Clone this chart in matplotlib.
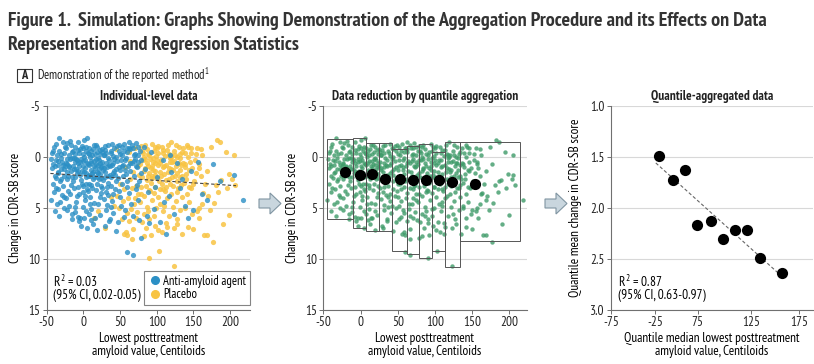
import numpy as np
import matplotlib
matplotlib.use("Agg")
import matplotlib.pyplot as plt
from matplotlib.patches import Rectangle, Polygon
from matplotlib.lines import Line2D

narrow = ['PT Sans Narrow', 'Roboto Condensed', 'Asap Condensed', 'DejaVu Sans']
plt.rcParams['font.family'] = narrow
plt.rcParams['axes.unicode_minus'] = False
plt.rcParams['mathtext.fontset'] = 'custom'
plt.rcParams['mathtext.rm'] = 'PT Sans Narrow'
plt.rcParams['mathtext.it'] = 'PT Sans Narrow:italic'

# individual-level data (x = centiloids, y = change in CDR-SB)
anti_amyloid = [
    (-44, 0.2), (-43, 1.1), (-42, 2.6), (-41, -0.6), (-40, 3.4), (-39, 0.9), (-38, -1.3), (-37, 2.1),
    (-36, 4.6), (-35, 1.6), (-44.5, 4.2), (-39, 5.3), (-38, 3.0),
    (-34, 0.4), (-33, -1.9), (-32, 2.4), (-31, 1.2), (-30, -0.3), (-29, 3.7), (-28, 0.8), (-27, 5.0),
    (-26, 1.9), (-25.5, -1.0), (-34, 3.1), (-32, 4.4), (-28, 2.8), (-33, 5.8), (-27, 3.9),
    (-24, 0.6), (-23, 2.2), (-22, -1.4), (-21, 3.3), (-20, 1.0), (-19, 4.8), (-18, 0.2), (-17, 2.7),
    (-16, 5.6), (-15.5, -0.5), (-24, 4.0), (-22, 1.5), (-18, 3.6), (-15, 6.1), (-23, 5.2), (-17, -1.2),
    (-14, 0.9), (-13, 3.0), (-12, -1.0), (-11, 2.0), (-10, 4.4), (-9, 0.3), (-8, 5.9), (-7, 1.4),
    (-6, 3.6), (-5.5, -0.4), (-14, 2.4), (-12, 4.9), (-10, 1.2), (-8, -1.5), (-7, 2.9), (-6, 6.3),
    (-13, 0.1), (-11, 5.4), (-9, 3.8), (-4, 6.0),
    (-4, 0.5), (-3, 2.3), (-2, -1.1), (-1, 3.4), (0, 0.9), (1, -1.7), (2, 4.2), (3, 1.6), (4, 5.3),
    (-3, 6.8), (0, 2.8), (1, 0.0), (2, 3.8), (3, -0.6), (4, 2.0), (-1, 4.9), (5, 7.0), (0.5, 6.0),
    (5.5, -1.9), (-2, 1.4), (-0.5, -0.3), (2.5, 1.1), (4.5, 3.1),
    (6, 0.7), (7, 2.6), (8, -0.9), (9, 3.9), (10, 1.3), (11, 5.1), (12, -0.2), (13, 2.2), (14, 4.5),
    (15, 0.4), (6, 3.3), (8, 1.8), (10, 6.2), (12, 3.0), (14, -1.2), (7, 5.6), (9, 0.0), (11, 2.7),
    (13, 6.6), (17, -1.2), (6.5, -0.4), (10.5, 0.6), (13.5, 1.5), (8.5, 4.6),
    (16, 1.1), (17, 3.2), (18, -0.5), (19, 2.0), (20, 4.6), (21, 0.3), (22, 5.7), (23, 1.7), (24, 3.5),
    (25, -0.8), (16, 6.0), (18, 2.6), (20, 0.8), (22, 3.9), (24, 1.0), (19, 7.2), (21, 2.2), (23, -0.3),
    (17.5, 0.2), (20.5, 1.6), (23.5, 2.8),
    (26, 0.5), (27, 2.3), (28, 4.1), (29, -0.7), (30, 1.5), (31, 5.2), (32, 2.9), (33, 0.1), (34, 3.7),
    (35, 6.3), (26, 3.0), (28, 1.1), (30, -1.1), (32, 4.7), (34, 1.9), (29, 6.8), (31, 0.6), (33, 2.5),
    (27.5, -0.2), (30.5, 3.4), (34.5, 0.8),
    (36, 0.9), (37, 2.8), (38, -0.4), (39, 4.3), (40, 1.6), (41, 5.5), (42, 0.2), (43, 3.1), (44, 7.3),
    (45, 1.2), (36, 6.1), (38, 2.0), (40, 3.6), (42, -0.9), (44, 2.4), (37, 4.9), (41, 0.6),
    (39.5, -1.3), (43.5, 1.8),
    (46, 0.4), (47, 2.1), (48, -0.6), (49, 3.3), (50, 1.3), (51, 4.8), (52, -1.0), (53, 2.6), (54, 0.8),
    (55, 5.9), (47, 6.4), (50, 3.9), (53, -0.2), (54, 1.9), (49, -1.2), (51.5, 0.3),
    (56, -1.3), (57, 0.3), (58, 1.7), (59, -0.5), (60, 2.4), (61, 0.9), (62, 3.5), (63, -0.8), (64, 1.4),
    (65, 4.6), (60, 9.3), (57, 5.2), (62, -1.5), (59, 2.9), (58.5, 0.1), (61.5, -0.9),
    (66, 0.6), (67, 9.6), (68, -0.9), (69, 1.9), (70, 0.2), (71, 3.1), (72, -1.4), (73, 1.0), (74, 4.2),
    (75, 0.5), (76, 2.4), (77, -0.6), (78, 7.9), (79, 1.6), (67, 5.8), (70, -0.3), (73, 2.7), (76, 6.2),
    (68.5, -0.2), (74.5, -1.0),
    (84, 1.2), (88, 3.4), (92, -0.5), (96, 5.1), (100, 2.0), (104, 6.4), (108, 0.3), (112, 7.5),
    (116, 3.8), (120, 1.5), (124, 5.6), (128, 0.6), (132, 3.0), (138, 4.8), (146, 1.4), (150, 5.2),
    (156, 0.5), (162, 3.6), (169, 4.2), (176, 0.7), (186, 2.4), (205, 1.8), (218, 4.2), (86, 5.8),
    (98, 2.9), (110, 4.4), (118, -0.2), (135, 2.2), (142, 6.0), (82, -1.0), (90, 6.5),
    # dense core near the top of the cloud
    (-43, -0.4), (-41, 0.7), (-40, -1.0), (-39, 1.9), (-37, 0.3), (-36, -0.2), (-35, 0.8), (-34, 1.5),
    (-33, -0.6), (-31, 0.1), (-30, 2.2), (-29, 0.5), (-28, -1.5), (-27, 1.2), (-26, -0.4), (-25, 0.9),
    (-24, -0.9), (-23, 0.7), (-22, 0.2), (-21, 1.9), (-20, -0.2), (-19, 0.9), (-18, -1.6), (-17, 1.4),
    (-16, 0.1), (-15, 2.0), (-14, -0.6), (-13, 1.2), (-12, 0.5), (-11, -0.3), (-10, 0.2), (-9, 1.6),
    (-8, 0.6), (-7, -0.7), (-6, 0.9), (-5, 1.8), (-4, -0.8), (-3, 0.2), (-2, 2.6), (-1, 0.4), (0, -0.9),
    (1, 1.5), (2, 0.3), (3, 2.6), (4, -1.0), (5, 0.6), (6, 1.9), (7, -0.3), (8, 0.8), (9, 1.9),
    (10, -0.6), (11, 0.4), (12, 1.6), (13, -0.8), (14, 0.9), (15, 2.0), (16, -0.3), (17, 0.7),
    (18, 1.5), (19, -1.0), (20, 0.1), (21, 1.2), (22, -0.7), (23, 0.6), (24, 2.1), (25, 0.9),
    (26, -0.5), (27, 1.3), (28, -0.2), (29, 2.0), (31, -0.4), (32, 1.0), (33, -1.2), (35, 0.3),
    (36, 1.8), (37, -0.6), (39, 0.8), (40, -0.1), (42, 1.4), (44, 0.0), (46, -1.1), (48, 1.0),
    (50, -0.3), (52, 0.9), (55, -0.6), (57, 1.3), (60, -0.9), (63, 0.6), (66, -1.2), (69, 0.4),
    (72, 0.9), (75, -0.2), (78, 0.3),
]

placebo = [
    (46, 3.8), (48, 5.0), (50, 2.6), (52, 6.1), (54, 4.3), (56, 7.5), (58, 7.4), (60, 7.6), (55, 3.1),
    (57, 1.0), (59, 5.5), (14, 6.0), (20, 5.3), (37, 3.9), (42, 4.8), (30, 7.0), (44, -0.8),
    (61, 4.0), (62, 6.3), (63, 2.2), (64, 0.4), (65, 5.1), (66, 3.0), (67, 7.1), (68, 1.5), (69, 4.6),
    (70, -0.9), (71, 6.0), (72, 2.8), (73, 5.4), (74, 0.9), (75, 3.6), (62, -0.5), (66, 8.0), (70, 4.0),
    (76, 1.8), (77, 4.4), (78, -1.1), (79, 2.9), (80, 6.4), (81, 0.3), (82, 3.8), (83, 5.6), (84, 1.1),
    (85, 7.0), (86, 2.3), (87, 4.9), (88, -0.3), (89, 3.2), (90, 6.1), (77, 0.7), (80, 2.0), (83, 7.7),
    (86, -0.8), (88, 5.3), (90, 9.9), (89, 1.6), (81.5, -0.4), (84.5, 0.2), (87.5, 0.9),
    (91, 0.2), (92, 2.5), (93, 4.2), (94, -1.3), (95, 1.3), (96, 3.5), (97, 6.8), (98, 0.6), (99, 5.0),
    (100, 2.1), (101, -0.4), (102, 3.9), (103, 9.2), (104, 1.5), (105, 4.6), (92, 7.6), (94, 0.9),
    (96, 5.8), (98, 2.9), (100, -0.9), (102, 7.2), (104, 3.1), (93, 1.9), (99, -0.1), (95.5, 0.1),
    (101.5, 0.8), (97.5, 1.8),
    (106, 0.3), (107, 2.6), (108, 5.3), (109, -0.7), (110, 1.7), (111, 3.3), (112, 6.5), (113, 0.8),
    (114, 4.0), (115, -1.2), (116, 2.2), (117, 5.8), (118, 0.1), (119, -1.5), (120, 3.6), (107, 7.4),
    (110, 4.8), (113, 2.9), (116, -0.3), (119, 1.2), (108, 1.0), (114, 6.9), (111.5, -0.1), (117.5, 0.5),
    (121, 0.5), (122, 2.8), (123, 10.7), (124, -0.6), (125, 1.9), (126, 4.3), (127, 6.1), (128, 0.0),
    (129, 3.0), (130, -1.0), (131, 2.0), (132, 5.2), (133, 0.8), (134, 3.9), (135, 7.5), (122, 4.9),
    (125, -0.2), (128, 6.6), (131, 1.3), (134, -0.5), (127, 2.4), (123, 7.0), (126.5, 0.9),
    (136, 0.6), (137, 2.5), (138, 5.0), (139, -0.4), (140, 1.7), (141, 3.6), (142, 6.9), (144, 4.4),
    (146, -0.9), (147, 3.0), (148, 5.6), (150, 7.1), (141, -1.2), (144, 2.9),
    (151, 2.4), (153, -0.3), (154, 1.6), (155, 5.3), (157, 0.7), (158, 6.0), (160, -0.8), (161, 4.6),
    (163, 3.5), (164, 7.6), (157, 5.0), (160, 1.9),
    (166, 2.6), (168, 1.4), (169, 7.6), (170, 3.8), (172, 5.2), (174, -1.0), (176, 8.3), (178, 4.5),
    (180, 2.7),
    (182, -1.7), (184, 3.4), (186, -1.5), (188, 2.3), (190, 6.6), (194, -0.5), (196, 3.0), (198, 1.7),
    (199, 5.7), (203, 2.2), (205, -0.2), (207, 2.7),
    # dense core near the top of the cloud
    (80, -0.6), (82, 1.4), (84, -1.2), (86, 0.6), (88, 1.9), (90, -0.2), (92, 1.1), (94, 2.1),
    (96, -0.6), (98, 1.4), (100, 0.3), (102, -1.1), (104, 0.6), (106, 1.9), (108, -0.4), (110, 0.9),
    (112, 2.3), (114, -0.7), (116, 1.1), (118, 2.6), (120, -0.2), (122, 1.3), (124, 0.4), (126, -1.2),
    (128, 1.6), (130, 0.6), (132, -0.3), (134, 1.9), (136, -0.9), (138, 0.7), (140, 2.2), (142, 0.0),
    (144, 1.3), (146, -0.4), (148, 1.1), (150, 2.6), (152, 0.3), (155, -0.9), (158, 1.1), (162, -0.2),
    (79, 3.6), (85, 2.8), (91, 3.3), (97, -1.0), (103, 2.4), (109, 3.1), (115, 1.5), (121, 2.0),
    (127, 3.4), (133, 2.7), (139, 1.0), (145, 0.5), (83, 0.0), (95, 0.5), (107, -1.0), (119, 0.0),
    (131, 0.1), (143, -1.0),
]

# quantile bins (x range, y range) and their summaries
bin_x_lo = [-44.6, -10.1, 7.8, 24.4, 42.7, 62.0, 78.1, 95.6, 113.0, 134.1]
bin_x_hi = [-10.1, 7.8, 24.4, 42.7, 62.0, 78.1, 95.6, 113.0, 134.1, 214.3]
bin_y_lo = [-1.76, -1.83, -1.34, -1.40, -0.75, -1.08, -1.24, -0.52, -1.50, -1.47]
bin_y_hi = [6.08, 6.95, 7.22, 7.22, 9.20, 9.54, 9.93, 9.18, 10.80, 8.24]
q_median = [-20.9, -0.7, 15.9, 32.4, 53.0, 70.5, 87.5, 105.0, 122.9, 154.3]
q_mean = [1.49, 1.725, 1.627, 2.17, 2.127, 2.30, 2.216, 2.216, 2.49, 2.64]

# right panel tick labels as printed in the figure
right_tick_pos = [-90, -27, 34, 111, 179]
right_tick_lab = ['-75', '-25', '75', '125', '175']

blue = '#2b8fc5'
yellow = '#f8c443'
green = '#3d9a68'
grid_c = '#d8d8d8'
spine_c = '#707070'
fs = 9.5

fig = plt.figure(figsize=(8.14, 3.64), dpi=100)

fig.text(8 / 814, 1 - 21 / 364, 'Figure 1.  Simulation: Graphs Showing Demonstration of the Aggregation Procedure and its Effects on Data',
         fontsize=14.5, fontweight='bold', color='#333333', va='center', ha='left')
fig.text(8 / 814, 1 - 45 / 364, 'Representation and Regression Statistics',
         fontsize=14.5, fontweight='bold', color='#333333', va='center', ha='left')
fig.patches.append(Rectangle((16.5 / 814, 1 - 82 / 364), 15.5 / 814, 13 / 364, transform=fig.transFigure,
                             fill=False, edgecolor='#333333', lw=0.8))
fig.text(24.3 / 814, 1 - 75.5 / 364, 'A', fontsize=9, fontweight='bold', ha='center', va='center', color='#222222')
fig.text(37 / 814, 1 - 75.5 / 364, r'Demonstration of the reported method$^{1}$', fontsize=9,
         ha='left', va='center', color='#222222')

def style_axes(ax, ylab_x):
    for s in ['top', 'right']:
        ax.spines[s].set_visible(False)
    for s in ['left', 'bottom']:
        ax.spines[s].set_color(spine_c)
        ax.spines[s].set_linewidth(0.8)
    ax.tick_params(labelsize=fs, length=3, width=0.7, color=spine_c, pad=1.5, labelcolor='#222222')
    ax.yaxis.grid(True, color=grid_c, lw=0.8)
    ax.set_axisbelow(True)
    ax.yaxis.set_label_coords(ylab_x, 0.5)
    ax.xaxis.set_label_coords(0.5, -0.11)

ax_h = 204 / 364
ax_b = 1 - 310 / 364
ax1 = fig.add_axes([46.7 / 814, ax_b, 203.3 / 814, ax_h])
ax2 = fig.add_axes([323.3 / 814, ax_b, 203.3 / 814, ax_h])
ax3 = fig.add_axes([611 / 814, ax_b, 202 / 814, ax_h])

xa, ya = np.array(anti_amyloid).T
xp, yp = np.array(placebo).T
all_x = np.concatenate([xa, xp])
all_y = np.concatenate([ya, yp])

xlab = 'Lowest posttreatment\namyloid value, Centiloids'

# panel 1
style_axes(ax1, -0.12)
ax1.scatter(xp, yp, s=14, color=yellow, alpha=0.85, lw=0, zorder=2)
ax1.scatter(xa, ya, s=14, color=blue, alpha=0.8, lw=0, zorder=2)
k, b = np.polyfit(all_x, all_y, 1)
fx = np.array([-45, 208])
ax1.plot(fx, k * fx + b, ls='--', color='#444444', lw=0.8, dashes=(3, 2), zorder=3)
ax1.set_xlim(-50, 227)
ax1.set_ylim(15, -5)
ax1.set_xticks([-50, 0, 50, 100, 150, 200])
ax1.set_yticks([-5, 0, 5, 10, 15])
ax1.set_title('Individual-level data', fontsize=fs, fontweight='bold', pad=4, color='#222222')
ax1.set_ylabel('Change in CDR-SB score', fontsize=fs)
ax1.set_xlabel(xlab, fontsize=fs, linespacing=1.0)
ax1.text(0.03, 0.139, r'$R^2$ = 0.03', transform=ax1.transAxes, fontsize=fs, va='center')
ax1.text(0.03, 0.069, '(95% CI, 0.02-0.05)', transform=ax1.transAxes, fontsize=fs, va='center')
handles = [Line2D([], [], ls='', marker='o', ms=5.5, color=blue),
           Line2D([], [], ls='', marker='o', ms=5.5, color=yellow)]
leg = ax1.legend(handles, ['Anti-amyloid agent', 'Placebo'], loc='lower right', bbox_to_anchor=(1.0, 0.025),
                 fontsize=9, frameon=True, fancybox=False, handletextpad=0.15, borderpad=0.3,
                 labelspacing=0.05, handlelength=1.1, borderaxespad=0)
leg.get_frame().set_edgecolor('#666666')
leg.get_frame().set_linewidth(0.8)

# panel 2
style_axes(ax2, -0.12)
ax2.scatter(all_x, all_y, s=10, color=green, alpha=0.8, lw=0, zorder=2)
for lo, hi, ylo, yhi in zip(bin_x_lo, bin_x_hi, bin_y_lo, bin_y_hi):
    ax2.add_patch(Rectangle((lo, ylo), hi - lo, yhi - ylo, fill=False, edgecolor='#555555', lw=0.7, zorder=3))
ax2.scatter(q_median, q_mean, s=65, color='black', lw=0, zorder=4)
ax2.set_xlim(-50, 223)
ax2.set_ylim(15, -5)
ax2.set_xticks([-50, 0, 50, 100, 150, 200])
ax2.set_yticks([-5, 0, 5, 10, 15])
ax2.set_title('Data reduction by quantile aggregation', fontsize=fs, fontweight='bold', pad=4, color='#222222')
ax2.set_ylabel('Change in CDR-SB score', fontsize=fs)
ax2.set_xlabel(xlab, fontsize=fs, linespacing=1.0)

# panel 3
style_axes(ax3, -0.145)
qk, qb = np.polyfit(q_median, q_mean, 1)
qx = np.array([min(q_median) - 5, max(q_median)])
ax3.plot(qx, qk * qx + qb, ls='--', color='#666666', lw=0.8, dashes=(3, 2), zorder=2)
ax3.scatter(q_median, q_mean, s=65, color='black', lw=0, zorder=3)
ax3.set_xlim(-90, 199)
ax3.set_ylim(3.0, 1.0)
ax3.set_xticks(right_tick_pos)
ax3.set_xticklabels(right_tick_lab)
ax3.set_yticks([1.0, 1.5, 2.0, 2.5, 3.0])
ax3.set_yticklabels(['1.0', '1.5', '2.0', '2.5', '3.0'])
ax3.set_title('Quantile-aggregated data', fontsize=fs, fontweight='bold', pad=4, color='#222222')
ax3.set_ylabel('Quantile mean change in CDR-SB score', fontsize=fs)
ax3.set_xlabel('Quantile median lowest posttreatment\namyloid value, Centiloids', fontsize=fs,
               linespacing=1.0)
ax3.text(0.035, 0.139, r'$R^2$ = 0.87', transform=ax3.transAxes, fontsize=fs, va='center')
ax3.text(0.035, 0.069, '(95% CI, 0.63-0.97)', transform=ax3.transAxes, fontsize=fs, va='center')

# block arrows between panels
def block_arrow(x0):
    pts = [(x0, 199), (x0 + 11, 199), (x0 + 11, 193), (x0 + 22, 203.5),
           (x0 + 11, 214), (x0 + 11, 208), (x0, 208)]
    pts = [(px / 814, 1 - py / 364) for px, py in pts]
    fig.patches.append(Polygon(pts, closed=True, transform=fig.transFigure,
                               facecolor='#c9d6de', edgecolor='#8095a2', lw=0.8))

block_arrow(259)
block_arrow(545)

fig.savefig('out.png', dpi=100)
